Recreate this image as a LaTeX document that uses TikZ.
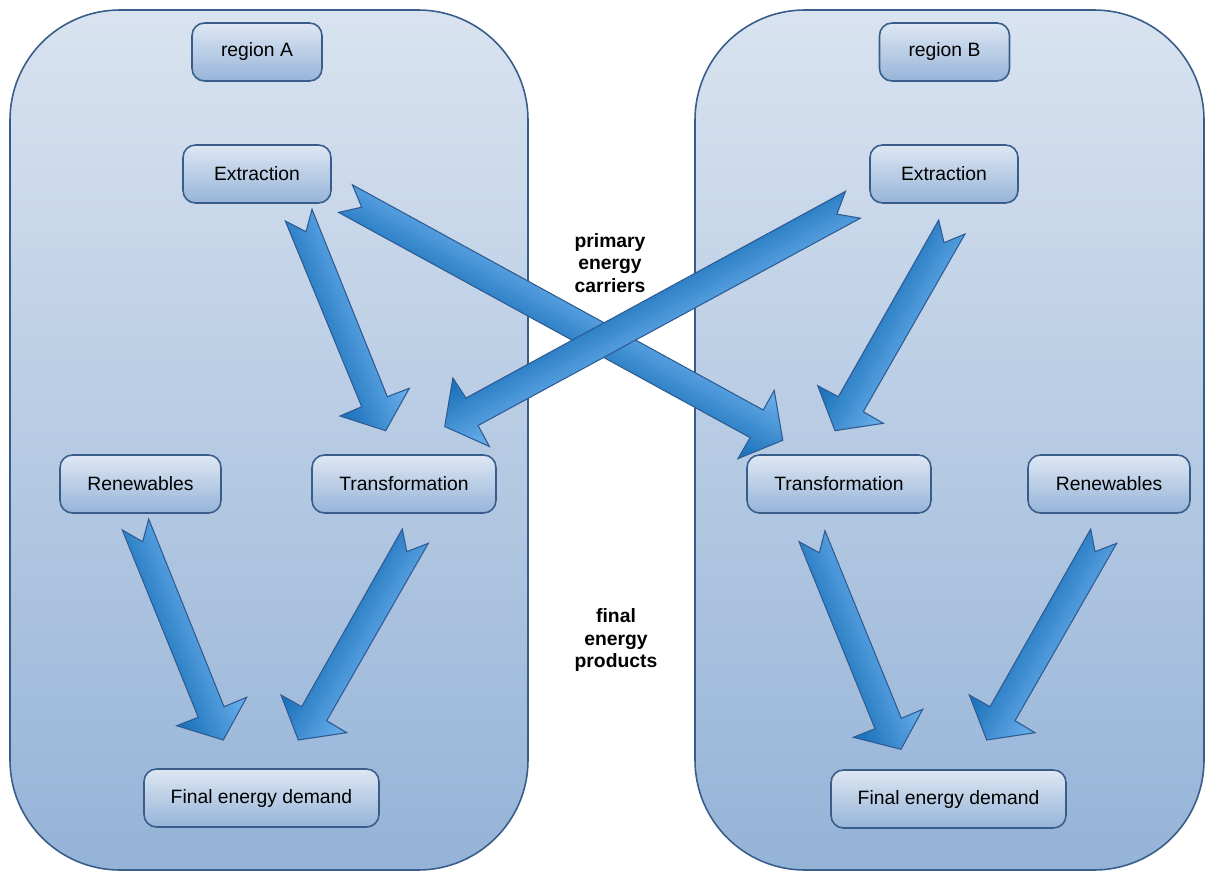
\documentclass[tikz,border=0pt]{standalone}
\usepackage{fontspec}
\setmainfont{Liberation Sans}
\definecolor{bordc}{RGB}{56,93,138}
\definecolor{regtop}{RGB}{217,227,240}
\definecolor{regbot}{RGB}{149,179,215}
\definecolor{boxtop}{RGB}{222,231,243}
\definecolor{boxbot}{RGB}{150,180,216}
\definecolor{arrdark}{RGB}{30,116,188}
\definecolor{arrlight}{RGB}{100,170,232}
\definecolor{arrbord}{RGB}{46,90,146}
% #1 outline path, #2 centre, #3 angle of the colour gradient, #4 half length
\newcommand\blockarr[4]{%
  \begin{scope}
    \clip #1;
    \begin{scope}[transform canvas={rotate around={#3:#2}}]
      \fill[arrdark]  #2 ++(-70,-#4) rectangle ++(41,{2*#4});
      \fill[arrlight] #2 ++(29,-#4) rectangle ++(41,{2*#4});
      \shade[left color=arrdark, right color=arrlight] #2 ++(-30,-#4) rectangle ++(60,{2*#4});
    \end{scope}
  \end{scope}
  \draw[arrowline] #1;
}
\begin{document}
\begin{tikzpicture}[x=0.02cm,y=-0.02cm,
  region/.style={draw=bordc, line width=0.9pt, rounded corners=2.2cm, top color=regtop, bottom color=regbot},
  box/.style={draw=bordc, line width=0.9pt, rounded corners=0.25cm, top color=boxtop, bottom color=boxbot,
    minimum height=1.16cm, inner sep=0pt, font=\fontsize{11}{13}\selectfont, text=black},
  arrowline/.style={draw=arrbord, line width=0.6pt, line join=miter},
  lbl/.style={font=\fontsize{11}{13}\selectfont\bfseries, align=center, inner sep=0pt}
]
\useasboundingbox (0,0) rectangle (1206,872);
% regions
\draw[region] (10,10) rectangle (528,870);
\draw[region] (695,10) rectangle (1204,870);
% region A boxes
\node[box, minimum width=2.6cm]  (regA) at (257,52)    {region A};
\node[box, minimum width=2.96cm] (extA) at (257,174)   {Extraction};
\node[box, minimum width=3.22cm] (renA) at (140.5,484) {Renewables};
\node[box, minimum width=3.68cm] (trA)  at (404,484)   {Transformation};
\node[box, minimum width=4.7cm]  (finA) at (261.5,798) {Final energy demand};
% region B boxes
\node[box, minimum width=2.6cm]  (regB) at (944.5,52)  {region B};
\node[box, minimum width=2.96cm] (extB) at (944,174)   {Extraction};
\node[box, minimum width=3.68cm] (trB)  at (839,484)   {Transformation};
\node[box, minimum width=3.24cm] (renB) at (1109,484)  {Renewables};
\node[box, minimum width=4.7cm]  (finB) at (948.5,799) {Final energy demand};
% labels in the gap
\node[lbl] (pec) at (610,263) {primary\\energy\\carriers};
\node[lbl] (fep) at (616,640) {final\\energy\\products};
% block arrows
% Extraction A -> Transformation A
\blockarr{(285.3,221) -- (361.7,406.7) -- (340,416) -- (385.7,430.7) -- (409.3,388.3) -- (387.3,396.7) -- (312,209.3) -- (306,231.7) -- cycle}{(342.2,323)}{22}{130}
% Extraction A -> Transformation B
\blockarr{(338.6,212.4) -- (750.1,437.6) -- (738,458.6) -- (782.8,440.3) -- (774.2,390.4) -- (763.2,410) -- (352.4,184.8) -- (361.7,207.2) -- cycle}{(564.2,319.5)}{61.1}{265}
% Extraction B -> Transformation A
\blockarr{(845.5,191.3) -- (466,398) -- (452.9,378) -- (444.7,426.5) -- (489.4,446.5) -- (478.1,425.5) -- (860.3,218.2) -- (836.9,214.1) -- cycle}{(648.8,315.7)}{-61.5}{250}
% Extraction B -> Transformation B
\blockarr{(938.7,220) -- (838.3,396.7) -- (817.7,385.7) -- (835,430.7) -- (883.3,423.3) -- (863.3,411.7) -- (965,234) -- (944,242.7) -- cycle}{(893.4,328.9)}{-29.9}{130}
% Renewables A -> Final A
\blockarr{(122.3,530) -- (198.3,717.3) -- (176.7,725.7) -- (223.3,740) -- (246.7,697.3) -- (224,706.7) -- (148.7,519) -- (142.7,541.7) -- cycle}{(179.4,632.3)}{22}{130}
% Transformation A -> Final A
\blockarr{(402.3,529) -- (301.7,706.7) -- (281,695) -- (298.3,740) -- (346.7,732.7) -- (326.7,720.7) -- (428.3,543.3) -- (406.7,551.7) -- cycle}{(356.8,638.1)}{-29.9}{130}
% Transformation B -> Final B
\blockarr{(799,541.7) -- (875,728.7) -- (853.3,737.3) -- (901,749.3) -- (922.7,709.3) -- (901.3,718.3) -- (825,530.7) -- (819.3,552.7) -- cycle}{(856.5,642.8)}{22.7}{130}
% Renewables B -> Final B
\blockarr{(1090.7,529) -- (990,706.7) -- (969.3,695) -- (986.7,740) -- (1035,732.7) -- (1015,720.7) -- (1116.7,543.3) -- (1095,551.7) -- cycle}{(1045.2,638.1)}{-29.9}{130}
\end{tikzpicture}
\end{document}
